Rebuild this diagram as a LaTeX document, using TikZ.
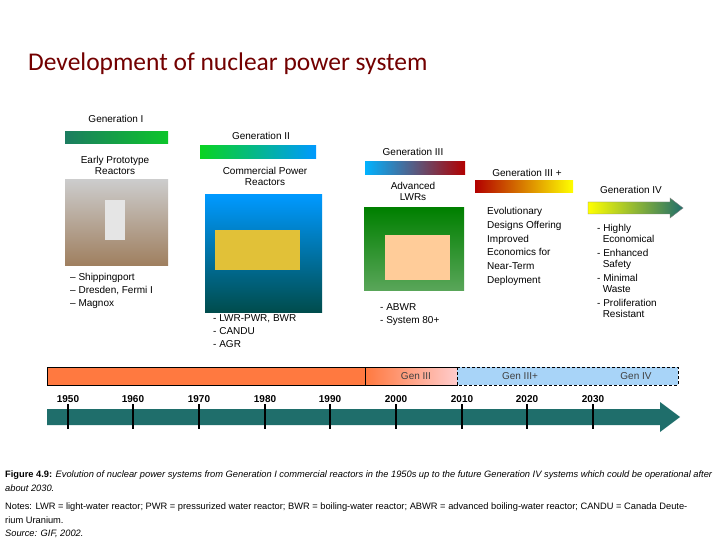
\documentclass[tikz,border=0pt]{standalone}
\usepackage{fontspec}
\setmainfont{Liberation Sans}
\newfontfamily\titlefont{Carlito}
\begin{document}
\begin{tikzpicture}[x=1pt,y=-1pt,
  lab/.style={inner sep=0pt,font=\fontsize{10}{11}\selectfont},
  lst/.style={inner sep=0pt,anchor=north west,align=left,font=\fontsize{10}{13}\selectfont},
  yr/.style={inner sep=0pt,font=\fontsize{10}{11}\selectfont\bfseries},
  captext/.style={inner sep=0pt,anchor=west,font=\fontsize{9.3}{10}\selectfont},
  tick/.style={line width=2pt,black}]
\useasboundingbox (0,0) rectangle (720,540);
\fill[white] (0,0) rectangle (720,540);
\definecolor{teal1}{HTML}{1F6E6B}
\definecolor{lblue}{HTML}{A8D4F8}
\node[anchor=west,inner sep=0pt,font=\titlefont\fontsize{25.5}{28}\selectfont,text=red!45!black] (title) at (28,64) {Development of nuclear power system};
% Gen I
\node[lab] (g1) at (116,119) {Generation I};
\shade[left color=teal1!90!green,right color=green!60!teal1] (65,132) rectangle (168,144);
\node[lab,align=center] (g1t) at (115,165) {Early Prototype\\Reactors};
\shade[top color=gray!40,bottom color=brown!50!gray] (65,180) rectangle (168,265);
\fill[gray!20] (105,200) rectangle (125,240);
\node[lst] (g1l) at (70,273) {– Shippingport\\– Dresden, Fermi I\\– Magnox};
% Gen II
\node[lab] (g2) at (261,136) {Generation II};
\shade[left color=green!70!teal1,right color=cyan!60!blue] (200,146) rectangle (316,159);
\node[lab,align=center] (g2t) at (265,176) {Commercial Power\\Reactors};
\shade[top color=blue!40!cyan,bottom color=teal!60!black] (205,195) rectangle (322,312);
\fill[yellow!50!brown] (215,230) rectangle (300,270);
\node[lst] (g2l) at (213,314) {- LWR-PWR, BWR\\- CANDU\\- AGR};
% Gen III
\node[lab] (g3) at (413,152) {Generation III};
\shade[left color=cyan!70!blue,right color=red!70!black] (365,162) rectangle (465,175);
\node[lab,align=center] (g3t) at (413,191) {Advanced\\LWRs};
\shade[top color=green!50!black,bottom color=green!30!gray] (364,208) rectangle (464,290);
\fill[orange!40!white] (385,235) rectangle (450,280);
\node[lst] (g3l) at (380,303) {- ABWR\\- System 80+};
% Gen III+
\node[lab] (g3p) at (527,173) {Generation III +};
\shade[left color=red!70!black,right color=yellow] (475,181) rectangle (573,193);
\node[lst,font=\fontsize{10}{13.8}\selectfont] (g3pt) at (487,207) {Evolutionary\\Designs Offering\\Improved\\Economics for\\Near-Term\\Deployment};
% Gen IV
\node[lab] (g4) at (631,190) {Generation IV};
\shade[left color=yellow,right color=teal1] (588,202) -- (670,202) -- (670,198) -- (683,208) -- (670,218) -- (670,214) -- (588,214) -- cycle;
\draw[gray] (588,202) -- (670,202) -- (670,198) -- (683,208) -- (670,218) -- (670,214) -- (588,214) -- cycle;
\node[lst,font=\fontsize{10}{11}\selectfont] (g4l) at (597,224) {- Highly\\\ \ Economical\\[3pt]- Enhanced\\\ \ Safety\\[3pt]- Minimal\\\ \ Waste\\[3pt]- Proliferation\\\ \ Resistant};
% timeline bar
\fill[orange!60!red!75!white] (47,367) rectangle (365,385);
\shade[left color=orange!60!red!75!white,right color=red!20!white] (365,367) rectangle (457,385);
\draw (47,367) rectangle (457,385);
\draw (365,367) -- (365,385);
\fill[lblue] (457,367) rectangle (678,385);
\draw[densely dashed,line width=1pt] (457,367) rectangle (678,385);
\node[lab,text=black!75] (b3) at (416,376) {Gen III};
\node[lab,text=black!75] (b3p) at (520,376) {Gen III+};
\node[lab,text=black!75] (b4) at (636,376) {Gen IV};
% axis arrow
\fill[teal1] (47,409) -- (660,409) -- (660,402) -- (680,417) -- (660,432) -- (660,425) -- (47,425) -- cycle;
\foreach \x/\y in {68/1950,133/1960,199/1970,265/1980,330/1990,396/2000,462/2010,527/2020,593/2030}{
  \draw[tick] (\x,404) -- (\x,429);
  \node[yr] at (\x,399) {\y};
}
% caption
\node[captext] (c1) at (5,475) {\textbf{Figure 4.9:} \textit{Evolution of nuclear power systems from Generation I commercial reactors in the 1950s up to the future Generation IV systems which could be operational after}};
\node[captext] (c2) at (5,488) {\textit{about 2030.}};
\node[captext] (c3) at (5,507) {Notes: LWR = light-water reactor; PWR = pressurized water reactor; BWR = boiling-water reactor; ABWR = advanced boiling-water reactor; CANDU = Canada Deute-};
\node[captext] (c4) at (5,520) {rium Uranium.};
\node[captext] (c5) at (5,534) {\textit{Source: GIF, 2002.}};
\end{tikzpicture}
\end{document}
